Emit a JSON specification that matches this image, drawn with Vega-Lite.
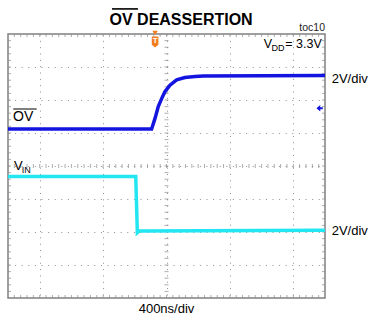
{
 "$schema": "https://vega.github.io/schema/vega-lite/v6.json",
 "width": 317, "height": 264,
 "autosize": {"type": "none"},
 "padding": {"left": 8, "top": 34, "right": 44, "bottom": 18},
 "background": "white",
 "config": {"view": {"stroke": "#808080", "strokeWidth": 1.5}, "font": "Liberation Sans"},
 "datasets": {
  "one": [{}],
  "traces": [
   {"trace": "OV", "t": 0, "v": 1.12},
   {"trace": "OV", "t": 4.53, "v": 1.12},
   {"trace": "OV", "t": 4.64, "v": 1.45},
   {"trace": "OV", "t": 4.74, "v": 1.8},
   {"trace": "OV", "t": 4.85, "v": 2.05},
   {"trace": "OV", "t": 4.95, "v": 2.25},
   {"trace": "OV", "t": 5.11, "v": 2.45},
   {"trace": "OV", "t": 5.32, "v": 2.61},
   {"trace": "OV", "t": 5.58, "v": 2.68},
   {"trace": "OV", "t": 5.9, "v": 2.71},
   {"trace": "OV", "t": 6.16, "v": 2.73},
   {"trace": "OV", "t": 10, "v": 2.74},
   {"trace": "VIN", "t": 0, "v": -0.32},
   {"trace": "VIN", "t": 4.03, "v": -0.32},
   {"trace": "VIN", "t": 4.05, "v": -1.0},
   {"trace": "VIN", "t": 4.08, "v": -2.02},
   {"trace": "VIN", "t": 4.14, "v": -1.97},
   {"trace": "VIN", "t": 10, "v": -1.95}
  ],
  "xt": [{"t":0.2},{"t":0.4},{"t":0.6},{"t":0.8},{"t":1},{"t":1.2},{"t":1.4},{"t":1.6},{"t":1.8},{"t":2},{"t":2.2},{"t":2.4},{"t":2.6},{"t":2.8},{"t":3},{"t":3.2},{"t":3.4},{"t":3.6},{"t":3.8},{"t":4},{"t":4.2},{"t":4.4},{"t":4.6},{"t":4.8},{"t":5},{"t":5.2},{"t":5.4},{"t":5.6},{"t":5.8},{"t":6},{"t":6.2},{"t":6.4},{"t":6.6},{"t":6.8},{"t":7},{"t":7.2},{"t":7.4},{"t":7.6},{"t":7.8},{"t":8},{"t":8.2},{"t":8.4},{"t":8.6},{"t":8.8},{"t":9},{"t":9.2},{"t":9.4},{"t":9.6},{"t":9.8}],
  "yt": [{"t":-3.8},{"t":-3.6},{"t":-3.4},{"t":-3.2},{"t":-3},{"t":-2.8},{"t":-2.6},{"t":-2.4},{"t":-2.2},{"t":-2},{"t":-1.8},{"t":-1.6},{"t":-1.4},{"t":-1.2},{"t":-1},{"t":-0.8},{"t":-0.6},{"t":-0.4},{"t":-0.2},{"t":0},{"t":0.2},{"t":0.4},{"t":0.6},{"t":0.8},{"t":1},{"t":1.2},{"t":1.4},{"t":1.6},{"t":1.8},{"t":2},{"t":2.2},{"t":2.4},{"t":2.6},{"t":2.8},{"t":3},{"t":3.2},{"t":3.4},{"t":3.6},{"t":3.8}]
 },
 "layer": [
  {"data": {"name": "xt"}, "mark": {"type": "tick", "orient": "vertical", "size": 4, "thickness": 1, "color": "#8a8a8a"},
   "encoding": {
    "x": {"field": "t", "type": "quantitative", "scale": {"domain": [0, 10], "nice": false, "zero": false},
          "axis": {"values": [1,2,3,4,5,6,7,8,9], "grid": true, "gridDash": [1, 5.34], "gridColor": "#8f8f8f", "labels": false, "ticks": false, "domain": false, "title": null}},
    "y": {"datum": 0, "scale": {"domain": [-4, 4], "nice": false, "zero": false},
          "axis": {"values": [-3,-2,-1,0,1,2,3], "grid": true, "gridDash": [1, 5.6], "gridColor": "#8f8f8f", "labels": false, "ticks": false, "domain": false, "title": null}}}},
  {"data": {"name": "xt"}, "mark": {"type": "tick", "orient": "vertical", "size": 3, "thickness": 1, "color": "#8a8a8a", "yOffset": -1.5},
   "encoding": {"x": {"field": "t", "type": "quantitative"}, "y": {"datum": -4}}},
  {"data": {"name": "xt"}, "mark": {"type": "tick", "orient": "vertical", "size": 3, "thickness": 1, "color": "#8a8a8a", "yOffset": 1.5},
   "encoding": {"x": {"field": "t", "type": "quantitative"}, "y": {"datum": 4}}},
  {"data": {"name": "yt"}, "mark": {"type": "tick", "orient": "horizontal", "size": 4, "thickness": 1, "color": "#8a8a8a"},
   "encoding": {"y": {"field": "t", "type": "quantitative"}, "x": {"datum": 5}}},
  {"data": {"name": "yt"}, "mark": {"type": "tick", "orient": "horizontal", "size": 3, "thickness": 1, "color": "#8a8a8a", "xOffset": 1.5},
   "encoding": {"y": {"field": "t", "type": "quantitative"}, "x": {"datum": 0}}},
  {"data": {"name": "yt"}, "mark": {"type": "tick", "orient": "horizontal", "size": 3, "thickness": 1, "color": "#8a8a8a", "xOffset": -1.5},
   "encoding": {"y": {"field": "t", "type": "quantitative"}, "x": {"datum": 10}}},
  {"data": {"name": "traces"}, "mark": {"type": "line", "strokeWidth": 3.5, "clip": true},
   "encoding": {
    "x": {"field": "t", "type": "quantitative"},
    "y": {"field": "v", "type": "quantitative"},
    "color": {"field": "trace", "type": "nominal", "scale": {"domain": ["OV", "VIN"], "range": ["#1414e0", "#22e6f2"]}, "legend": null}
   }},
  {"data": {"name": "one"}, "mark": {"type": "text", "text": "OV DEASSERTION", "fontSize": 16, "fontWeight": "bold", "align": "center", "baseline": "alphabetic", "color": "black"},
   "encoding": {"x": {"datum": 5.46}, "y": {"datum": 4.27}}},
  {"data": {"name": "one"}, "mark": {"type": "rule", "strokeWidth": 1.6, "color": "black"},
   "encoding": {"x": {"datum": 3.28}, "x2": {"datum": 4.1}, "y": {"datum": 4.76}}},
  {"data": {"name": "one"}, "mark": {"type": "text", "text": "toc10", "fontSize": 10.5, "align": "right", "baseline": "alphabetic", "color": "#222"},
   "encoding": {"x": {"datum": 10}, "y": {"datum": 4.106}}},
  {"data": {"name": "one"}, "mark": {"type": "text", "text": "V", "fontSize": 12.5, "align": "left", "baseline": "alphabetic", "color": "black"},
   "encoding": {"x": {"datum": 8.07}, "y": {"datum": 3.565}}},
  {"data": {"name": "one"}, "mark": {"type": "text", "text": "DD", "fontSize": 9, "align": "left", "baseline": "alphabetic", "color": "black"},
   "encoding": {"x": {"datum": 8.31}, "y": {"datum": 3.5}}},
  {"data": {"name": "one"}, "mark": {"type": "text", "text": "= 3.3V", "fontSize": 12.5, "align": "right", "baseline": "alphabetic", "color": "black"},
   "encoding": {"x": {"datum": 9.9}, "y": {"datum": 3.565}}},
  {"data": {"name": "one"}, "mark": {"type": "text", "text": "2V/div", "fontSize": 13, "align": "left", "baseline": "alphabetic", "color": "black"},
   "encoding": {"x": {"datum": 10.21}, "y": {"datum": 2.515}}},
  {"data": {"name": "one"}, "mark": {"type": "text", "text": "2V/div", "fontSize": 13, "align": "left", "baseline": "alphabetic", "color": "black"},
   "encoding": {"x": {"datum": 10.21}, "y": {"datum": -2.09}}},
  {"data": {"name": "one"}, "mark": {"type": "text", "text": "OV", "fontSize": 14, "align": "left", "baseline": "alphabetic", "color": "black"},
   "encoding": {"x": {"datum": 0.158}, "y": {"datum": 1.364}}},
  {"data": {"name": "one"}, "mark": {"type": "rule", "strokeWidth": 1, "color": "black"},
   "encoding": {"x": {"datum": 0.167}, "x2": {"datum": 0.905}, "y": {"datum": 1.727}}},
  {"data": {"name": "one"}, "mark": {"type": "text", "text": "V", "fontSize": 13, "align": "left", "baseline": "alphabetic", "color": "black"},
   "encoding": {"x": {"datum": 0.19}, "y": {"datum": -0.121}}},
  {"data": {"name": "one"}, "mark": {"type": "text", "text": "IN", "fontSize": 9, "align": "left", "baseline": "alphabetic", "color": "black"},
   "encoding": {"x": {"datum": 0.43}, "y": {"datum": -0.197}}},
  {"data": {"name": "one"}, "mark": {"type": "text", "text": "400ns/div", "fontSize": 13, "align": "center", "baseline": "alphabetic", "color": "black"},
   "encoding": {"x": {"datum": 5}, "y": {"datum": -4.455}}},
  {"data": {"name": "one"}, "mark": {"type": "point", "shape": "triangle-down", "size": 30, "filled": true, "color": "#f07d1e", "opacity": 1, "yOffset": -1},
   "encoding": {"x": {"datum": 4.64}, "y": {"datum": 4}}},
  {"data": {"name": "one"}, "mark": {"type": "point", "shape": "M-0.6,-1L0.6,-1L0.6,0.5L0,1L-0.6,0.5Z", "size": 121, "filled": true, "color": "#f07d1e", "opacity": 1},
   "encoding": {"x": {"datum": 4.64}, "y": {"datum": 3.76}}},
  {"data": {"name": "one"}, "mark": {"type": "text", "text": "T", "fontSize": 8, "fontWeight": "bold", "align": "center", "baseline": "middle", "color": "white"},
   "encoding": {"x": {"datum": 4.64}, "y": {"datum": 3.78}}},
  {"data": {"name": "one"}, "mark": {"type": "point", "shape": "M-1,0L0.2,-1L0.2,-0.3L1,-0.3L1,0.3L0.2,0.3L0.2,1Z", "size": 40, "filled": true, "color": "#1414e0", "opacity": 1},
   "encoding": {"x": {"datum": 9.83}, "y": {"datum": 1.75}}}
 ]
}
